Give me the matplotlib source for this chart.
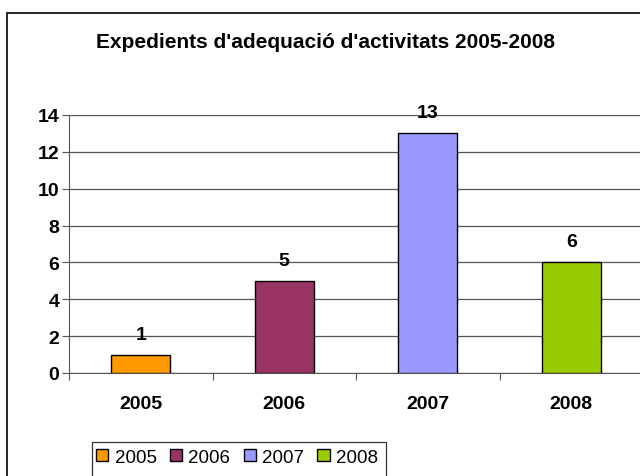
import matplotlib.pyplot as plt
from matplotlib.patches import Rectangle, Patch

plt.rcParams['font.family'] = ['Liberation Sans', 'DejaVu Sans']

# Dades
anys = ['2005', '2006', '2007', '2008']
expedients = [1, 5, 13, 6]
colors = ['#FF9900', '#993366', '#9999FF', '#99CC00']

fig = plt.figure(figsize=(6.4, 4.77), dpi=100)

# Marc exterior del gràfic (tallat per la dreta i per baix)
fig.patches.append(Rectangle((7 / 640, -0.05), 1.0, 1 - 14 / 477 + 0.05,
                             transform=fig.transFigure, fill=False,
                             edgecolor='black', linewidth=1.2))

ax = fig.add_axes([69 / 640, 103 / 477, 574 / 640, 258 / 477])

x = range(len(anys))
ax.bar(x, expedients, width=0.41, color=colors, edgecolor='black', linewidth=1, zorder=3)

for i, v in enumerate(expedients):
    ax.text(i, v + 0.65, str(v), ha='center', va='bottom',
            fontsize=14, fontweight='bold', zorder=4)

ax.set_xlim(-0.5, 3.5)
ax.set_ylim(0, 14)
ax.set_yticks(range(0, 15, 2))
ax.set_xticks([-0.5, 0.5, 1.5, 2.5, 3.5])
ax.set_xticklabels([])
ax.set_xticks(list(x), minor=True)
ax.set_xticklabels(anys, minor=True, fontsize=14, fontweight='bold')
ax.tick_params(axis='x', which='minor', length=0, pad=16)
ax.tick_params(axis='x', which='major', length=5, color='#555555', direction='out')
ax.tick_params(axis='y', length=5, color='#555555', labelsize=14, pad=2)
for lab in ax.get_yticklabels():
    lab.set_fontweight('bold')

ax.grid(axis='y', color='#555555', linewidth=0.9, zorder=0)
ax.set_axisbelow(True)
for s in ['top', 'right']:
    ax.spines[s].set_visible(False)
ax.spines['left'].set_color('#555555')
ax.spines['bottom'].set_color('#555555')

fig.text(325 / 640, 1 - 48 / 477, "Expedients d'adequació d'activitats 2005-2008",
         ha='center', va='baseline', fontsize=15, fontweight='bold')

# Llegenda: el marc continua per sota de la imatge, com a l'original
handles = [Patch(facecolor=c, edgecolor='black', label=a) for a, c in zip(anys, colors)]
leg = fig.legend(handles=handles, loc='upper left', bbox_to_anchor=(92 / 640, 1 - 446 / 477),
                 ncol=4, frameon=False, fontsize=13.5,
                 handlelength=0.65, handleheight=0.65, handletextpad=0.35,
                 columnspacing=0.7, borderpad=0.2, borderaxespad=0)
fig.patches.append(Rectangle((92 / 640, -0.05), 294 / 640, 0.05 + 1 - 443 / 477,
                             transform=fig.transFigure, fill=False,
                             edgecolor='#333333', linewidth=0.9))

fig.savefig('out.png', dpi=100)
